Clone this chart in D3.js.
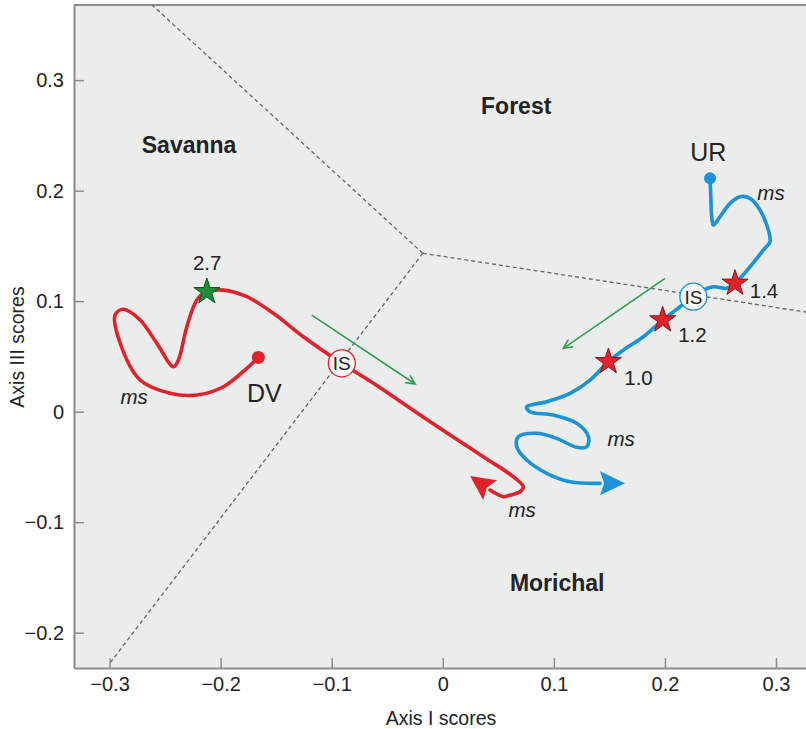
<!DOCTYPE html>
<html>
<head>
<meta charset="utf-8">
<script src="https://cdn.jsdelivr.net/npm/d3@7"></script>
<style>
  body { margin: 0; background: #fff; }
  svg { display: block; font-family: "Liberation Sans", Arial, Helvetica, sans-serif; }
</style>
</head>
<body>
<svg id="chart" width="806" height="729"></svg>
<script>
// Axis ticks
const xTicks = [-0.3, -0.2, -0.1, 0, 0.1, 0.2, 0.3];
const yTicks = [-0.2, -0.1, 0, 0.1, 0.2, 0.3];

// DV trajectory (Axis I, Axis III), starting at the DV site
const dvTrack = [
  [-0.166, 0.0491], [-0.1764, 0.0392], [-0.1975, 0.0225], [-0.2214, 0.0150],
  [-0.2455, 0.0166], [-0.2725, 0.0286], [-0.2905, 0.0621], [-0.295, 0.0874],
  [-0.2875, 0.0926], [-0.2725, 0.0829], [-0.2574, 0.0618], [-0.2425, 0.0406],
  [-0.238, 0.0467], [-0.2304, 0.0768], [-0.2214, 0.101], [-0.2124, 0.1085],
  [-0.1975, 0.110], [-0.1764, 0.104], [-0.1525, 0.089], [-0.1255, 0.0678],
  [-0.0909, 0.0437], [-0.0627, 0.0259], [-0.0177, -0.0049], [0.0365, -0.0408],
  [0.0635, -0.0589], [0.0725, -0.068], [0.0696, -0.0725], [0.0606, -0.0755],
  [0.0545, -0.077], [0.0426, -0.071]
];
const dvArrowTip = [0.0246, -0.0583];

// UR trajectory, starting at the UR site
const urTrack = [
  [0.2406, 0.2111], [0.2412, 0.1976], [0.2421, 0.1764], [0.2436, 0.1689],
  [0.2496, 0.1764], [0.2586, 0.1885], [0.2676, 0.1945], [0.2766, 0.1930],
  [0.2856, 0.1824], [0.2931, 0.1643], [0.2946, 0.1538], [0.2886, 0.1462],
  [0.2766, 0.1311], [0.2631, 0.1161], [0.2556, 0.1116], [0.2436, 0.1130],
  [0.2346, 0.1100], [0.2256, 0.1040], [0.2136, 0.0949], [0.1980, 0.0829],
  [0.1806, 0.0678], [0.1626, 0.0557], [0.1491, 0.0452], [0.1326, 0.0286],
  [0.1146, 0.0166], [0.0936, 0.0090], [0.0756, 0.0044], [0.0786, -0.0001],
  [0.0995, -0.0031], [0.1206, -0.0106], [0.1311, -0.0227], [0.1296, -0.0318],
  [0.1206, -0.0323], [0.1026, -0.0242], [0.0846, -0.0196], [0.0680, -0.0227],
  [0.0666, -0.0318], [0.0756, -0.0438], [0.0936, -0.0558], [0.1146, -0.0634],
  [0.1416, -0.0649]
];
const urArrowTip = [0.1641, -0.0649];

// Vegetation boundaries meeting at one hub
const boundaryHub = [-0.018, 0.1433];
const boundaryEnds = [[-0.2617, 0.368], [-0.300, -0.228], [0.327, 0.0901]];

// Region names
const regionNames = ["Forest", "Savanna", "Morichal"];
const regionPos = [[0.0661, 0.2765], [-0.2284, 0.2413], [0.1030, -0.1552]];

// Stars on the trajectories with their ages
const starLabels = ["2.7", "1.0", "1.2", "1.4"];
const starPos = [[-0.2124, 0.1085], [0.1491, 0.0452], [0.1980, 0.0829], [0.2631, 0.1161]];
const starLabelPos = [[-0.2121, 0.1353], [0.1762, 0.0309], [0.2248, 0.0693], [0.2892, 0.1096]];
const starKinds = ["green", "red", "red", "red"];

// IS markers on each trajectory
const isPos = [[-0.0909, 0.0437], [0.2256, 0.1040]];
const isKinds = ["red", "blue"];

// Site names
const siteNames = ["DV", "UR"];
const sitePos = [[-0.1606, 0.0168], [0.2390, 0.2349]];

// "ms" annotations
const msPos = [[-0.2779, 0.0119], [0.0714, -0.0904], [0.2955, 0.1965], [0.1605, -0.0257]];

// Direction-of-change arrows
const shiftArrows = [
  [[-0.1179, 0.0874], [-0.0249, 0.0250]],
  [[0.2001, 0.1206], [0.1086, 0.0573]]
];

const colors = {
  red: "#e2222b", redDark: "#8e1519",
  blue: "#1b93d6",
  green: "#1e8c3c", greenDark: "#0e5222",
  arrowGreen: "#2f9e4f",
  bg: "#ebecec", axis: "#8c8c8c", dash: "#666", text: "#232323"
};

const svg = d3.select("#chart");
const plotLeft = 74, plotRight = 806, plotTop = 5, plotBottom = 668;

const x = d3.scaleLinear().domain([-0.332, 0.327]).range([plotLeft, plotRight]);
const y = d3.scaleLinear().domain([-0.232, 0.368]).range([plotBottom, plotTop]);

// plot background
svg.append("rect")
  .attr("x", plotLeft).attr("y", plotTop)
  .attr("width", plotRight - plotLeft).attr("height", plotBottom - plotTop)
  .attr("fill", colors.bg);

svg.append("line")
  .attr("x1", plotLeft).attr("x2", plotRight).attr("y1", plotTop).attr("y2", plotTop)
  .attr("stroke", colors.axis).attr("stroke-width", 2);

// boundaries
const g = svg.append("g");
boundaryEnds.forEach(e => {
  g.append("line")
    .attr("x1", x(boundaryHub[0])).attr("y1", y(boundaryHub[1]))
    .attr("x2", x(e[0])).attr("y2", y(e[1]))
    .attr("stroke", colors.dash).attr("stroke-width", 1.3)
    .attr("stroke-dasharray", "4,3");
});

// axes
const fmt = d3.format(".1~f");
const xAxis = d3.axisBottom(x).tickValues(xTicks).tickSizeInner(-10).tickSizeOuter(0)
  .tickPadding(9).tickFormat(fmt);
const yAxis = d3.axisLeft(y).tickValues(yTicks).tickSizeInner(-10).tickSizeOuter(0)
  .tickPadding(10).tickFormat(fmt);

function styleAxis(sel) {
  sel.select(".domain").attr("stroke", colors.axis).attr("stroke-width", 2);
  sel.selectAll(".tick line").attr("stroke", colors.axis).attr("stroke-width", 1.5);
  sel.selectAll(".tick text").attr("fill", colors.text)
    .style("font-size", "20px").style("font-family", "'Liberation Sans', Arial, sans-serif");
}
svg.append("g").attr("transform", `translate(0,${plotBottom})`).call(xAxis).call(styleAxis);
svg.append("g").attr("transform", `translate(${plotLeft},0)`).call(yAxis).call(styleAxis);

svg.append("text")
  .attr("x", 441).attr("y", 725)
  .attr("text-anchor", "middle").attr("fill", colors.text)
  .style("font-size", "19.5px").text("Axis I scores");
svg.append("text")
  .attr("transform", "translate(24,347) rotate(-90)")
  .attr("text-anchor", "middle").attr("fill", colors.text)
  .style("font-size", "19.5px").text("Axis III scores");

// region names
regionNames.forEach((name, i) => {
  svg.append("text")
    .attr("x", x(regionPos[i][0])).attr("y", y(regionPos[i][1]))
    .attr("dy", "0.36em").attr("text-anchor", "middle")
    .attr("fill", colors.text).style("font-size", "23px").style("font-weight", "bold")
    .text(name);
});

// direction arrows
const arrowG = svg.append("g");
shiftArrows.forEach(a => {
  const x1 = x(a[0][0]), y1 = y(a[0][1]), x2 = x(a[1][0]), y2 = y(a[1][1]);
  const ang = Math.atan2(y2 - y1, x2 - x1);
  const L = 10, spread = 0.45;
  arrowG.append("line")
    .attr("x1", x1).attr("y1", y1).attr("x2", x2).attr("y2", y2)
    .attr("stroke", colors.arrowGreen).attr("stroke-width", 1.6);
  const p = d3.path();
  p.moveTo(x2 - L * Math.cos(ang - spread), y2 - L * Math.sin(ang - spread));
  p.lineTo(x2, y2);
  p.lineTo(x2 - L * Math.cos(ang + spread), y2 - L * Math.sin(ang + spread));
  arrowG.append("path").attr("d", p.toString())
    .attr("fill", "none").attr("stroke", colors.arrowGreen).attr("stroke-width", 1.6);
});

// trajectories
const line = d3.line().x(d => x(d[0])).y(d => y(d[1])).curve(d3.curveCatmullRom.alpha(0.5));

function arrowHead(base, tip, color) {
  const bx = x(base[0]), by = y(base[1]), tx = x(tip[0]), ty = y(tip[1]);
  const dx = tx - bx, dy = ty - by, len = Math.hypot(dx, dy);
  const ux = dx / len, uy = dy / len, px = -uy, py = ux;
  const W = 12, notch = 4;
  const p = d3.path();
  p.moveTo(tx, ty);
  p.lineTo(bx + px * W, by + py * W);
  p.lineTo(bx + ux * notch, by + uy * notch);
  p.lineTo(bx - px * W, by - py * W);
  p.closePath();
  svg.append("path").attr("d", p.toString()).attr("fill", color);
}

svg.append("path").attr("d", line(dvTrack))
  .attr("fill", "none").attr("stroke", colors.red).attr("stroke-width", 3.6)
  .attr("stroke-linejoin", "round").attr("stroke-linecap", "round");
arrowHead(dvTrack[dvTrack.length - 1], dvArrowTip, colors.red);

svg.append("path").attr("d", line(urTrack))
  .attr("fill", "none").attr("stroke", colors.blue).attr("stroke-width", 3.6)
  .attr("stroke-linejoin", "round").attr("stroke-linecap", "round");
arrowHead(urTrack[urTrack.length - 1], urArrowTip, colors.blue);

// site dots
svg.append("circle").attr("cx", x(dvTrack[0][0])).attr("cy", y(dvTrack[0][1]))
  .attr("r", 6.5).attr("fill", colors.red);
svg.append("circle").attr("cx", x(urTrack[0][0])).attr("cy", y(urTrack[0][1]))
  .attr("r", 6).attr("fill", colors.blue);

siteNames.forEach((name, i) => {
  svg.append("text")
    .attr("x", x(sitePos[i][0])).attr("y", y(sitePos[i][1]))
    .attr("dy", "0.36em").attr("text-anchor", "middle")
    .attr("fill", colors.text).style("font-size", "25px")
    .text(name);
});

// IS markers
isPos.forEach((p, i) => {
  const c = isKinds[i] === "red" ? colors.red : colors.blue;
  svg.append("circle").attr("cx", x(p[0])).attr("cy", y(p[1])).attr("r", 13.5)
    .attr("fill", "#f7f7f7").attr("stroke", c).attr("stroke-width", 1.3);
  svg.append("text").attr("x", x(p[0])).attr("y", y(p[1]))
    .attr("dy", "0.36em").attr("text-anchor", "middle")
    .attr("fill", colors.text).style("font-size", "19px")
    .text("IS");
});

// stars
const star = d3.symbol().type(d3.symbolStar).size(210);
starPos.forEach((p, i) => {
  const isGreen = starKinds[i] === "green";
  svg.append("path").attr("d", star())
    .attr("transform", `translate(${x(p[0])},${y(p[1])})`)
    .attr("fill", isGreen ? colors.green : colors.red)
    .attr("stroke", isGreen ? colors.greenDark : colors.redDark)
    .attr("stroke-width", 1);
  svg.append("text")
    .attr("x", x(starLabelPos[i][0])).attr("y", y(starLabelPos[i][1]))
    .attr("dy", "0.36em").attr("text-anchor", "middle")
    .attr("fill", colors.text).style("font-size", "20.5px")
    .text(starLabels[i]);
});

// ms labels
msPos.forEach(p => {
  svg.append("text")
    .attr("x", x(p[0])).attr("y", y(p[1]))
    .attr("dy", "0.27em").attr("text-anchor", "middle")
    .attr("fill", colors.text).style("font-size", "20.5px").style("font-style", "italic")
    .text("ms");
});
</script>
</body>
</html>
